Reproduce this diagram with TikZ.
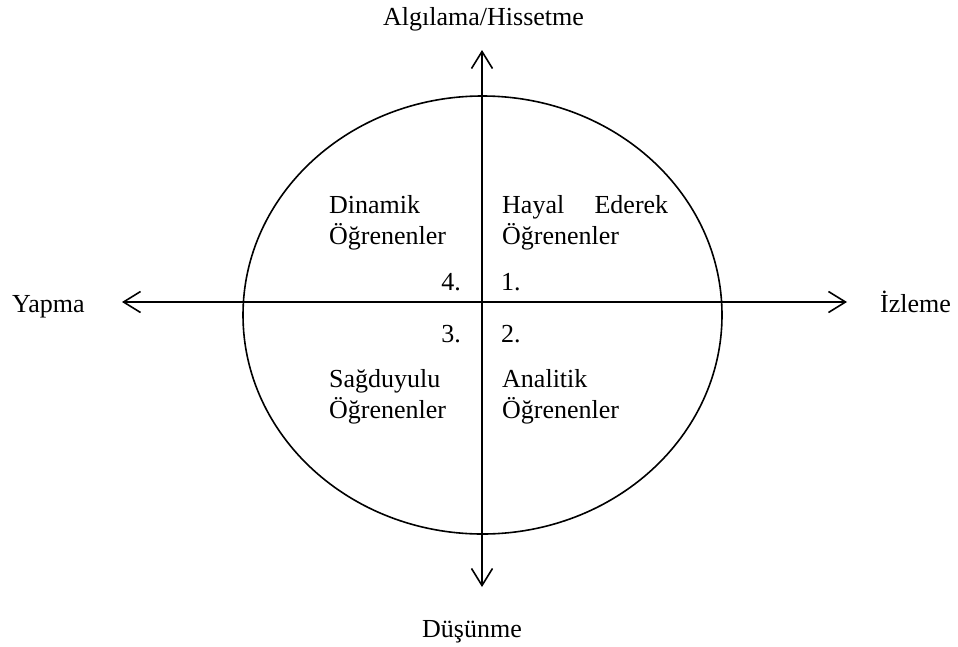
\documentclass[tikz,border=0pt]{standalone}
\usepackage{fontspec}
\setmainfont{Liberation Serif}
\usetikzlibrary{arrows.meta}
\begin{document}
\begin{tikzpicture}[x=1pt,y=-1pt,
  axis/.style={line width=1.6pt,{Straight Barb[length=17pt,width=21pt,line width=1.6pt]}-{Straight Barb[length=17pt,width=21pt,line width=1.6pt]}},
  lbl/.style={inner sep=0pt,font=\fontsize{26pt}{31pt}\selectfont},
  lw/.style={lbl,anchor=base west},
  le/.style={lbl,anchor=base east},
  lc/.style={lbl,anchor=base}]
  \useasboundingbox (0,0) rectangle (958,646);

  % circle of the four learner types
  \draw[line width=1.6pt] (482.5,315) ellipse [x radius=239.5, y radius=219];

  % axis end points
  \coordinate (top) at (482,50);
  \coordinate (bottom) at (482,587);
  \coordinate (left) at (122,302);
  \coordinate (right) at (847,302);
  \draw[axis] (bottom) -- (top);
  \draw[axis] (left) -- (right);

  % axis labels
  \node[lc] (algilama) at (483.5,25) {Algılama/Hissetme};
  \node[lc] (dusunme) at (472,637) {Düşünme};
  \node[lw] (yapma) at (12,312) {Yapma};
  \node[lw] (izleme) at (880,312) {İzleme};

  % upper left quadrant
  \node[lw] (dinA) at (329,213) {Dinamik};
  \node[lw] (dinB) at (329,244) {Öğrenenler};
  \node[le] (num4) at (461,290) {4.};
  % upper right quadrant
  \node[lw] (hayA) at (502,213) {\makebox[166pt][s]{Hayal\hfill Ederek}};
  \node[lw] (hayB) at (502,244) {Öğrenenler};
  \node[lw] (num1) at (501,290) {1.};
  % lower left quadrant
  \node[le] (num3) at (461,342) {3.};
  \node[lw] (sagA) at (329,387) {Sağduyulu};
  \node[lw] (sagB) at (329,418) {Öğrenenler};
  % lower right quadrant
  \node[lw] (num2) at (501,342) {2.};
  \node[lw] (anaA) at (502,387) {Analitik};
  \node[lw] (anaB) at (502,418) {Öğrenenler};
\end{tikzpicture}
\end{document}
